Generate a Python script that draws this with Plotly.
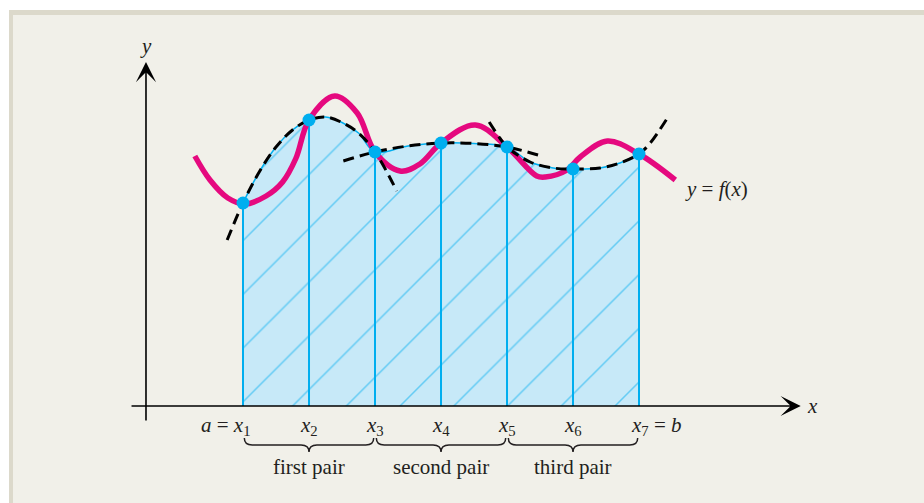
import plotly.graph_objects as go

# ---------------- data (diagram units) ----------------
NODE_X = [1, 2, 3, 4, 5, 6, 7]
NODE_Y = [4.06, 5.72, 5.08, 5.26, 5.18, 4.74, 5.04]
NODE_LABELS = ["<i>a</i> = <i>x</i><sub>1</sub>", "<i>x</i><sub>2</sub>", "<i>x</i><sub>3</sub>",
               "<i>x</i><sub>4</sub>", "<i>x</i><sub>5</sub>", "<i>x</i><sub>6</sub>",
               "<i>x</i><sub>7</sub> = <i>b</i>"]
PAIR_LABELS = ["first pair", "second pair", "third pair"]

# the curve y = f(x)
F_X = [0.27, 0.5, 0.77, 1.03, 1.35, 1.60, 1.80, 2.0, 2.39, 2.73, 3.0, 3.38, 3.68,
       4.0, 4.52, 5.0, 5.45, 5.58, 5.91, 6.11, 6.52, 7.0, 7.55]
F_Y = [5.0, 4.52, 4.16, 4.04, 4.2, 4.48, 4.95, 5.72, 6.2, 5.86, 5.08, 4.7, 4.84,
       5.26, 5.62, 5.18, 4.6, 4.58, 4.72, 4.98, 5.3, 5.04, 4.52]

# dashed approximating parabolas
P1_X = [0.76, 1.0, 1.25, 1.5, 1.75, 2.0, 2.25, 2.5, 2.75, 3.0, 3.33]
P1_Y = [3.32, 4.06, 4.69, 5.18, 5.52, 5.72, 5.78, 5.67, 5.46, 5.08, 4.30]
P2_X = [2.52, 3.0, 3.5, 4.0, 4.5, 5.0, 5.47]
P2_Y = [4.90, 5.08, 5.20, 5.26, 5.25, 5.18, 5.02]
P3_X = [4.73, 4.89, 5.0, 5.35, 5.70, 6.0, 6.41, 6.71, 7.0, 7.17, 7.42]
P3_Y = [5.68, 5.36, 5.18, 4.88, 4.76, 4.74, 4.76, 4.86, 5.04, 5.26, 5.74]

# axes extents
X_AXIS_FROM, X_AXIS_TO = -0.712, 9.45
Y_AXIS_AT = -0.47
Y_AXIS_FROM, Y_AXIS_TO = -0.32, 6.88

# ---------------- styles ----------------
PINK = "#e5097f"
CYAN = "#00aeef"
FILL = "#c7e9f8"
INK = "#231f20"
BG = "#f1f0e9"
FRAME = "#dcd9cb"
SERIF = "Liberation Serif, Times New Roman, serif"

fig = go.Figure()

# shaded region under the parabolic arcs
top_x, top_y = [], []
for px, py, lo, hi, first in [(P1_X, P1_Y, 1, 3, True), (P2_X, P2_Y, 3, 5, False),
                              (P3_X, P3_Y, 5, 7, False)]:
    for xv, yv in zip(px, py):
        if (lo <= xv <= hi) and (first or xv > lo):
            top_x.append(xv)
            top_y.append(yv)
fig.add_trace(go.Scatter(
    x=top_x, y=top_y, mode="lines", line=dict(color=CYAN, width=1.5, shape="spline"),
    fill="tozeroy", fillcolor=FILL,
    fillpattern=dict(shape="/", fgcolor=CYAN, bgcolor=FILL, size=38, solidity=0.04),
    hoverinfo="skip"))

# vertical ordinates
vx, vy = [], []
for xv, yv in zip(NODE_X, NODE_Y):
    vx += [xv, xv, None]
    vy += [0, yv, None]
fig.add_trace(go.Scatter(x=vx, y=vy, mode="lines", line=dict(color=CYAN, width=2),
                         hoverinfo="skip"))

# f(x)
fig.add_trace(go.Scatter(x=F_X, y=F_Y, mode="lines",
                         line=dict(color=PINK, width=5.5, shape="spline"), hoverinfo="skip"))

# dashed parabolas
for px, py in [(P1_X, P1_Y), (P2_X, P2_Y), (P3_X, P3_Y)]:
    fig.add_trace(go.Scatter(x=px, y=py, mode="lines",
                             line=dict(color="black", width=3, dash="11px,6px", shape="spline"),
                             hoverinfo="skip"))

# nodes
fig.add_trace(go.Scatter(x=NODE_X, y=NODE_Y, mode="markers",
                         marker=dict(color=CYAN, size=13, line=dict(width=0)), hoverinfo="skip"))

annotations = []
# axes with arrowheads
annotations.append(dict(x=X_AXIS_TO, y=0, ax=X_AXIS_FROM, ay=0, xref="x", yref="y",
                        axref="x", ayref="y", showarrow=True, arrowhead=3, arrowsize=2.1,
                        arrowwidth=1.6, arrowcolor="black", text=""))
annotations.append(dict(x=Y_AXIS_AT, y=Y_AXIS_TO, ax=Y_AXIS_AT, ay=Y_AXIS_FROM, xref="x", yref="y",
                        axref="x", ayref="y", showarrow=True, arrowhead=3, arrowsize=2.1,
                        arrowwidth=1.6, arrowcolor="black", text=""))
annotations.append(dict(x=Y_AXIS_AT, y=Y_AXIS_TO, yshift=16, text="<i>y</i>", showarrow=False,
                        font=dict(family=SERIF, size=21, color=INK)))
annotations.append(dict(x=X_AXIS_TO, y=0, xshift=4, xanchor="left", text="<i>x</i>", showarrow=False,
                        font=dict(family=SERIF, size=21, color=INK)))

# node labels
for i, (xv, lab) in enumerate(zip(NODE_X, NODE_LABELS)):
    if i == 0:
        a = dict(xanchor="right", xshift=10)
    elif i == len(NODE_X) - 1:
        a = dict(xanchor="left", xshift=-10)
    else:
        a = dict(xanchor="center")
    annotations.append(dict(x=xv, y=0, yshift=-20, text=lab, showarrow=False,
                            font=dict(family=SERIF, size=21, color=INK), **a))

# pair labels and braces
shapes = []
Y_TOP, Y_MID, Y_BOT = -0.64, -0.78, -0.92
R = 0.12
for k, lab in enumerate(PAIR_LABELS):
    x0 = NODE_X[2 * k] + 0.02
    x1 = NODE_X[2 * k + 2] - 0.02
    c = NODE_X[2 * k + 1]
    path = (f"M{x0},{Y_TOP} Q{x0},{Y_MID} {x0 + R},{Y_MID} L{c - R},{Y_MID} "
            f"Q{c},{Y_MID} {c},{Y_BOT} Q{c},{Y_MID} {c + R},{Y_MID} "
            f"L{x1 - R},{Y_MID} Q{x1},{Y_MID} {x1},{Y_TOP}")
    shapes.append(dict(type="path", path=path, xref="x", yref="y",
                       line=dict(color=INK, width=1.5)))
    annotations.append(dict(x=c, y=-1.22, text=lab, showarrow=False,
                            font=dict(family=SERIF, size=21, color=INK)))

# curve label
annotations.append(dict(x=8.18, y=4.34, text="<i>y</i> = <i>f</i>(<i>x</i>)", showarrow=False,
                        font=dict(family=SERIF, size=21, color=INK)))

# page frame
shapes.insert(0, dict(type="rect", xref="paper", yref="paper", x0=13 / 924, x1=1, y0=0,
                      y1=1 - 15 / 503, fillcolor=BG, line=dict(width=0), layer="below"))
shapes.insert(0, dict(type="rect", xref="paper", yref="paper", x0=9 / 924, x1=1, y0=0,
                      y1=1 - 10 / 503, fillcolor=FRAME, line=dict(width=0), layer="below"))

fig.update_layout(
    width=924, height=503, margin=dict(l=0, r=0, t=0, b=0),
    paper_bgcolor="white", plot_bgcolor="rgba(0,0,0,0)",
    showlegend=False, hovermode=False,
    xaxis=dict(range=[-2.682, 11.318], visible=False, fixedrange=True),
    yaxis=dict(range=[-1.94, 8.12], visible=False, fixedrange=True),
    shapes=shapes, annotations=annotations,
)

fig.write_html("out.html", config={"displayModeBar": False},
               post_script="document.body.style.margin='0';document.body.style.overflow='hidden';")
